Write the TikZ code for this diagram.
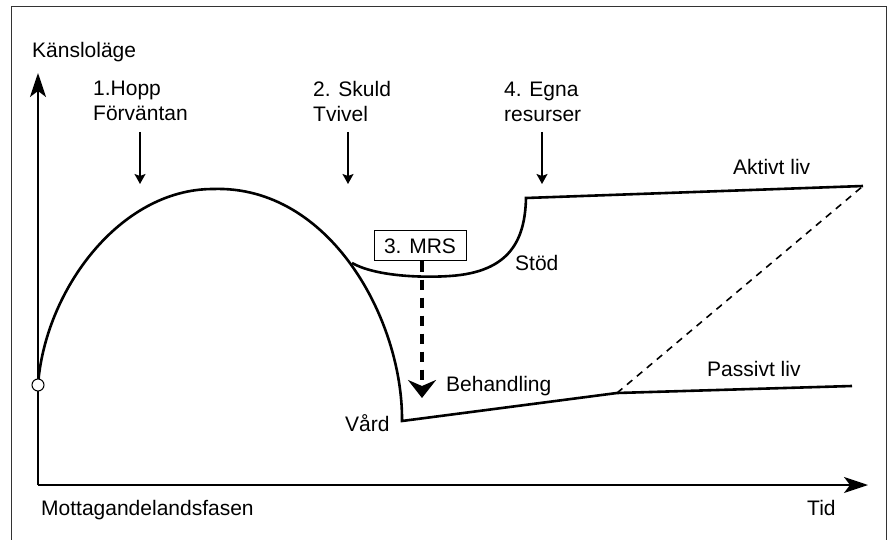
\documentclass[tikz,border=0pt]{standalone}
\usepackage{fontspec}
\setmainfont{Liberation Sans}
\usetikzlibrary{arrows.meta}
\begin{document}
\begin{tikzpicture}[x=1pt,y=-1pt,
  lbl/.style={font=\fontsize{21}{24}\selectfont, inner sep=0pt, anchor=base west},
  axis/.style={line width=2pt, -{Stealth[length=24pt,width=16pt,inset=6pt]}},
  curve/.style={line width=2.6pt, line join=miter},
  pointer/.style={line width=1.4pt, -{Stealth[length=10pt,width=11pt,inset=2pt]}},
  phase/.style={draw, line width=1pt, fill=white, inner sep=4pt, font=\fontsize{21}{24}\selectfont,
    minimum width=92pt, minimum height=30pt}
]
\useasboundingbox (0,0) rectangle (889,540);
% outer frame
\draw[line width=1pt, black!80] (11,545) -- (11,7) -- (886,7) -- (886,545);

% axes
\coordinate (O) at (38,485);
\coordinate (ytop) at (38,73);
\coordinate (xend) at (868,485);
\draw[axis] (O) -- (ytop);
\draw[axis] (O) -- (xend);

% axis labels
\node[lbl] (ylab) at (32,58) {Känsloläge};
\node[lbl] (xlab) at (41,515) {Mottagandelandsfasen};
\node[lbl] (tid) at (807,515) {Tid};

% main course: hope arc, fall to care, then treatment and passive life
\coordinate (start) at (38,385);
\coordinate (peak) at (213,189);
\coordinate (care) at (402,421);
\coordinate (split) at (617,393);
\coordinate (passend) at (852,386);
\draw[curve] (start) .. controls (45,290) and (120,189) .. (peak)
  .. controls (330,185) and (403,320) .. (care) -- (split) -- (passend);

% support branch leading to active life
\coordinate (branch) at (352,263);
\coordinate (low) at (450,276);
\coordinate (corner) at (526,198);
\coordinate (actend) at (863,186);
\draw[curve] (branch) .. controls (375,276) and (420,278) .. (low)
  .. controls (510,272) and (525,240) .. (corner) -- (actend);

% possible transition from passive to active life
\draw[line width=1.6pt, dash pattern=on 7pt off 6pt] (split) -- (actend);

% start marker
\node[circle, draw, fill=white, line width=1pt, minimum size=12pt, inner sep=0pt] (origin) at (start) {};

% phase labels and pointers
\node[lbl] (h1) at (93,96) {1.Hopp};
\node[lbl] (h2) at (93,121) {Förväntan};
\node[lbl] (s1) at (313,97) {2. Skuld};
\node[lbl] (s2) at (313,122) {Tvivel};
\node[lbl] (e1) at (504,97) {4. Egna};
\node[lbl] (e2) at (504,122) {resurser};
\coordinate (p1a) at (140,132); \coordinate (p1b) at (140,184);
\coordinate (p2a) at (348,132); \coordinate (p2b) at (348,184);
\coordinate (p4a) at (542,132); \coordinate (p4b) at (542,184);
\draw[pointer] (p1a) -- (p1b);
\draw[pointer] (p2a) -- (p2b);
\draw[pointer] (p4a) -- (p4b);

% MRS box with dashed drop arrow
\node[phase] (mrs) at (420,246) {3. MRS};
\coordinate (droptip) at (422,398);
\draw[line width=4pt, dash pattern=on 10pt off 8pt,
  -{Stealth[length=18pt,width=28pt,inset=6pt]}] (mrs.south -| droptip) -- (droptip);

% outcome labels
\node[lbl] (akt) at (733,175) {Aktivt liv};
\node[lbl] (pas) at (707,376) {Passivt liv};
\node[lbl] (stod) at (515,270) {Stöd};
\node[lbl] (beh) at (446,391) {Behandling};
\node[lbl] (vard) at (345,431) {Vård};
\end{tikzpicture}
\end{document}
